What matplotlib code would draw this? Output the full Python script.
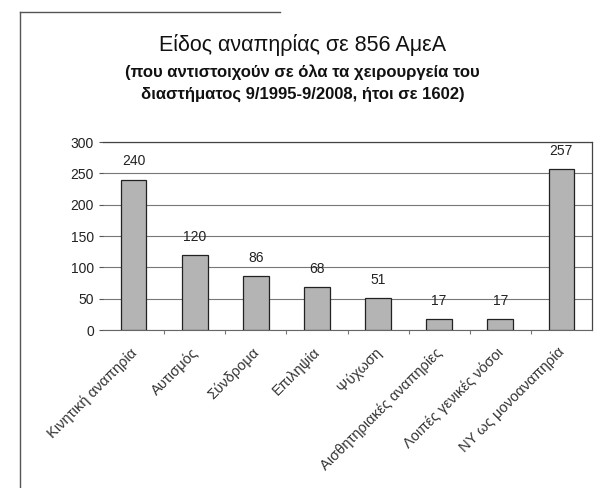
import matplotlib
matplotlib.use("Agg")
import matplotlib.pyplot as plt
from matplotlib.lines import Line2D
from matplotlib.transforms import ScaledTranslation

plt.rcParams['font.family'] = ['Liberation Sans', 'DejaVu Sans']

categories = [
    "Κινητική αναπηρία",
    "Αυτισμός",
    "Σύνδρομα",
    "Επιληψία",
    "Ψύχωση",
    "Αισθητηριακές αναπηρίες",
    "Λοιπές γενικές νόσοι",
    "ΝΥ ως μονοαναπηρία",
]
counts = [240, 120, 86, 68, 51, 17, 17, 257]
y_ticks = [0, 50, 100, 150, 200, 250, 300]

fig = plt.figure(figsize=(5.99, 4.88), dpi=100)
ax = fig.add_axes([103 / 599, 1 - 330 / 488, (592 - 103) / 599, (330 - 142) / 488])

x = list(range(len(categories)))
ax.bar(x, counts, width=0.42, color="#b4b4b4", edgecolor="#222222", linewidth=0.9, zorder=3)
for xi, v in zip(x, counts):
    ax.annotate(str(v), (xi, v), xytext=(0, 8), textcoords="offset points",
                ha="center", va="bottom", fontsize=10, color="#222222")

ax.set_xlim(-0.5, len(categories) - 0.5)
ax.set_ylim(0, 300)
ax.set_yticks(y_ticks)
ax.tick_params(axis="y", labelsize=10, length=3, color="#555555", labelcolor="#222222")
ax.set_xticks([i + 0.5 for i in x[:-1]], minor=False)
ax.set_xticklabels([])
ax.tick_params(axis="x", length=3, color="#777777")
ax.set_xticks(x, minor=True)
ax.set_xticklabels(categories, minor=True, rotation=45, ha="right", rotation_mode="anchor",
                   fontsize=10.5, color="#333333")
ax.tick_params(axis="x", which="minor", length=0, pad=11)
shift = ScaledTranslation(-4 / 100, 0, fig.dpi_scale_trans)
for lbl in ax.get_xticklabels(minor=True):
    lbl.set_transform(lbl.get_transform() + shift)
ax.grid(axis="y", color="#777777", linewidth=0.8, zorder=0)

for side in ["top", "right"]:
    ax.spines[side].set_color("#444444")
    ax.spines[side].set_linewidth(0.9)
ax.spines["left"].set_visible(False)
ax.spines["bottom"].set_color("#666666")

fig.text(0.5 + 0.005, 1 - 45 / 488, "Είδος αναπηρίας σε 856 ΑμεΑ", ha="center", va="center",
         fontsize=15.5, color="#111111")
fig.text(0.5 + 0.005, 1 - 72 / 488, "(που αντιστοιχούν σε όλα τα χειρουργεία του", ha="center",
         va="center", fontsize=12, fontweight="bold", color="#111111")
fig.text(0.5 + 0.005, 1 - 94 / 488, "διαστήματος 9/1995-9/2008, ήτοι σε 1602)", ha="center",
         va="center", fontsize=12, fontweight="bold", color="#111111")

# outer frame edges
fig.add_artist(Line2D([20 / 599, 20 / 599], [1 - 12 / 488, 0], transform=fig.transFigure,
                      color="#555555", linewidth=1.0))
fig.add_artist(Line2D([20 / 599, 280 / 599], [1 - 12 / 488, 1 - 12 / 488], transform=fig.transFigure,
                      color="#555555", linewidth=1.0))

fig.savefig("out.png", dpi=100)
